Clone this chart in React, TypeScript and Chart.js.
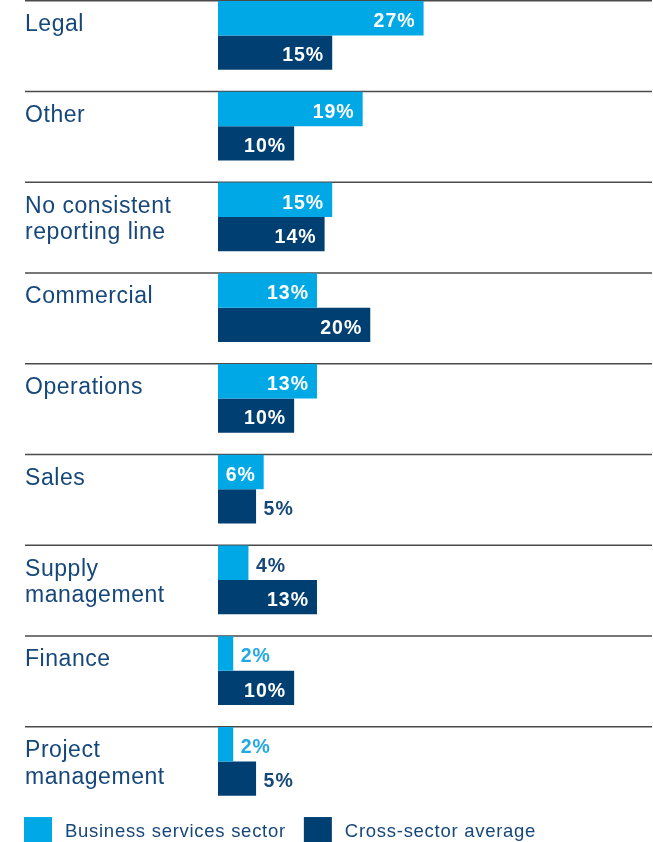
import React, { useEffect, useRef } from "react";
import { Chart, registerables } from "chart.js";

Chart.register(...registerables);

const categories: string[][] = [
  ["Legal"],
  ["Other"],
  ["No consistent", "reporting line"],
  ["Commercial"],
  ["Operations"],
  ["Sales"],
  ["Supply", "management"],
  ["Finance"],
  ["Project", "management"],
];
const businessServices = [27, 19, 15, 13, 13, 6, 4, 2, 2];
const crossSector = [15, 10, 14, 20, 10, 5, 13, 10, 5];
const seriesNames = ["Business services sector", "Cross-sector average"];
const xMax = 57;

const LIGHT = "#00a9e6";
const NAVY = "#003f71";
const TEXT = "#16477a";
const LIGHT_TEXT = "#22a8e2";
const FONT = "'Liberation Sans', Arial, Helvetica, sans-serif";

const decorPlugin = {
  id: "decor",
  beforeDatasetsDraw(chart: any) {
    const ctx = chart.ctx as CanvasRenderingContext2D;
    const meta = chart.getDatasetMeta(0);
    ctx.save();
    meta.data.forEach((bar: any, i: number) => {
      const { y, height } = bar.getProps(["y", "height"], true);
      const top = y - height / 2 - 0.3;
      ctx.strokeStyle = "#4a4a4a";
      ctx.lineWidth = 1.3;
      ctx.beginPath();
      ctx.moveTo(25, top);
      ctx.lineTo(chart.chartArea.right, top);
      ctx.stroke();
      ctx.fillStyle = TEXT;
      ctx.font = `23px ${FONT}`;
      (ctx as any).letterSpacing = "0.55px";
      ctx.textAlign = "left";
      ctx.textBaseline = "alphabetic";
      const lines = chart.data.labels[i] as string[];
      lines.forEach((ln: string, j: number) => {
        ctx.fillText(ln, 25, top + 30.3 + j * 26.8);
      });
    });
    ctx.restore();
  },
  afterDatasetsDraw(chart: any) {
    const ctx = chart.ctx as CanvasRenderingContext2D;
    ctx.save();
    const ls = 1.0;
    ctx.font = `bold 19.5px ${FONT}`;
    (ctx as any).letterSpacing = `${ls}px`;
    ctx.textBaseline = "alphabetic";
    chart.data.datasets.forEach((ds: any, d: number) => {
      const meta = chart.getDatasetMeta(d);
      meta.data.forEach((bar: any, i: number) => {
        const v = ds.data[i] as number;
        const { x, y, base } = bar.getProps(["x", "y", "base"], true);
        const label = `${v}%`;
        const w = ctx.measureText(label).width;
        const width = x - base;
        const ty = y + 8.8;
        if (w + 10 <= width) {
          ctx.fillStyle = "#ffffff";
          ctx.textAlign = "right";
          ctx.fillText(label, x - Math.min(9, (width - w) / 2 + 1) + ls, ty);
        } else {
          ctx.fillStyle = d === 0 && v <= 2 ? LIGHT_TEXT : TEXT;
          ctx.textAlign = "left";
          ctx.fillText(label, x + 7.5, ty);
        }
      });
    });
    ctx.restore();
  },
  afterDraw(chart: any) {
    const ctx = chart.ctx as CanvasRenderingContext2D;
    ctx.save();
    const boxTop = chart.chartArea.bottom + 10.3;
    const box = 28;
    let x = 24;
    ctx.font = `18.5px ${FONT}`;
    (ctx as any).letterSpacing = "0.72px";
    ctx.textAlign = "left";
    ctx.textBaseline = "alphabetic";
    chart.data.datasets.forEach((ds: any) => {
      ctx.fillStyle = ds.backgroundColor;
      ctx.fillRect(x, boxTop, box, box);
      const tx = x + box + 13;
      ctx.fillStyle = TEXT;
      ctx.fillText(ds.label, tx, boxTop + 19.8);
      x = tx + ctx.measureText(ds.label).width + 18;
    });
    ctx.restore();
  },
};

export default function App() {
  const ref = useRef<HTMLCanvasElement | null>(null);
  useEffect(() => {
    if (!ref.current) return;
    const chart = new Chart(ref.current, {
      type: "bar",
      data: {
        labels: categories as any,
        datasets: [
          {
            label: seriesNames[0],
            data: businessServices,
            backgroundColor: LIGHT,
            categoryPercentage: 0.756,
            barPercentage: 1,
          },
          {
            label: seriesNames[1],
            data: crossSector,
            backgroundColor: NAVY,
            categoryPercentage: 0.756,
            barPercentage: 1,
          },
        ],
      },
      options: {
        indexAxis: "y",
        animation: false,
        responsive: false,
        maintainAspectRatio: false,
        layout: { padding: { left: 218, right: 1, top: 0, bottom: 39.25 } },
        scales: {
          x: { display: false, min: 0, max: xMax },
          y: { display: false },
        },
        plugins: {
          legend: { display: false },
          tooltip: { enabled: false },
        },
      },
      plugins: [decorPlugin],
    });
    return () => chart.destroy();
  }, []);
  return (
    <div
      style={{
        position: "fixed",
        left: 0,
        top: 0,
        width: 653,
        height: 842,
        overflow: "hidden",
        background: "#ffffff",
      }}
    >
      <canvas
        ref={ref}
        width={653}
        height={856}
        style={{ position: "absolute", left: 0, top: -10, width: 653, height: 856 }}
      />
    </div>
  );
}
